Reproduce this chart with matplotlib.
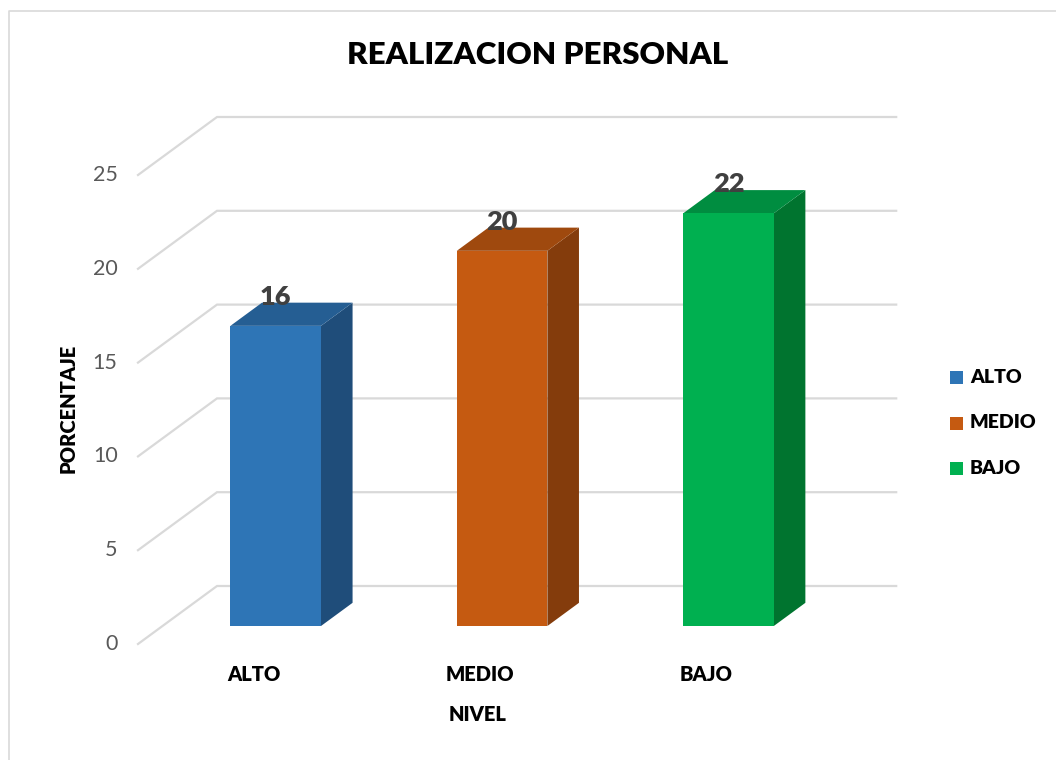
import matplotlib
matplotlib.use("Agg")
import matplotlib.pyplot as plt
from matplotlib.patches import Polygon, Rectangle
from matplotlib.lines import Line2D

# ---- data ----
categories = ["ALTO", "MEDIO", "BAJO"]
values = [16, 20, 22]
y_ticks = [0, 5, 10, 15, 20, 25]
title = "REALIZACION PERSONAL"
x_label = "NIVEL"
y_label = "PORCENTAJE"

# ---- style ----
front_colors = ["#2E75B6", "#C55A11", "#00B050"]
top_colors = ["#255E93", "#9F490E", "#008D40"]
side_colors = ["#1F4D7A", "#843C0C", "#00742F"]
grid_color = "#D9D9D9"
font = ["Lato", "DejaVu Sans"]
plt.rcParams["font.family"] = font
BOLD = "heavy"

W, H = 1056, 760
fig = plt.figure(figsize=(W / 100, H / 100), dpi=100)
ax = fig.add_axes([0, 0, 1, 1])
ax.set_axis_off()

# pixel mapping of the plot: front plane origin and scales
x0_px, y0_px = 138.0, 644.0
cat_px, unit_px = 226.4, 18.76
ax.set_xlim(-x0_px / cat_px, (W - x0_px) / cat_px)
ax.set_ylim((y0_px - H) / unit_px, y0_px / unit_px)

DX = 79 / cat_px      # depth offset in category units
DY = 58 / unit_px     # depth offset in value units
n = len(categories)
bw = 0.4
f0, g = 0.31, 0.40    # bar front depth fraction and bar depth fraction

# gridlines (floor diagonals + back wall)
for t in y_ticks:
    ax.plot([0, DX, n + DX], [t, t + DY, t + DY], color=grid_color, lw=1.6,
            solid_joinstyle="miter", zorder=1)
    ax.text(-0.09, t, str(t), ha="right", va="center", fontsize=15.5,
            color="#595959")

# bars
for i, (v, fc, tc, sc) in enumerate(zip(values, front_colors, top_colors, side_colors)):
    xl = i + 0.5 - bw / 2 + f0 * DX
    xr = xl + bw
    yb = f0 * DY
    yt = v + yb
    ddx, ddy = g * DX, g * DY
    ax.add_patch(Polygon([[xr, yb], [xr + ddx, yb + ddy], [xr + ddx, yt + ddy], [xr, yt]],
                         closed=True, facecolor=sc, edgecolor="none", zorder=3))
    ax.add_patch(Polygon([[xl, yt], [xr, yt], [xr + ddx, yt + ddy], [xl + ddx, yt + ddy]],
                         closed=True, facecolor=tc, edgecolor="none", zorder=3))
    ax.add_patch(Rectangle((xl, yb), bw, v, facecolor=fc, edgecolor="none", zorder=4))
    ax.text((xl + xr) / 2, yt + ddy + 0.3, str(v), ha="center", va="center",
            fontsize=19.5, fontweight=BOLD, color="#404040", zorder=5)
    ax.text(i + 0.5 + 0.01, -1.65, categories[i], ha="center", va="center",
            fontsize=14.5, fontweight=BOLD, color="black")

ax.text(n / 2, -3.78, x_label, ha="center", va="center", fontsize=14.5,
        fontweight=BOLD, color="black")
ax.text(-0.309, 12.58, y_label, ha="center", va="center", rotation=90,
        fontsize=14.5, fontweight=BOLD, color="black")
ax.text(1.767, 31.4, title, ha="center", va="center", fontsize=22.6,
        fontweight=BOLD, color="black")

# legend (pixel layout)
for i, (lab, fc) in enumerate(zip(categories, front_colors)):
    cy = 377.5 + i * 45.5
    fig.patches.append(Rectangle((950 / W, 1 - (cy + 6.5) / H), 13 / W, 13 / H,
                                 facecolor=fc, edgecolor="none",
                                 transform=fig.transFigure, figure=fig))
    fig.text(970 / W, 1 - cy / H, lab, ha="left", va="center", fontsize=14,
             fontweight=BOLD, color="black")

# chart border (left and top visible)
fig.lines.append(Line2D([8.5 / W, 8.5 / W, 1.0], [0, 1 - 10.5 / H, 1 - 10.5 / H],
                        color="#D9D9D9", lw=1.2, transform=fig.transFigure))

fig.savefig("out.png", dpi=100)
